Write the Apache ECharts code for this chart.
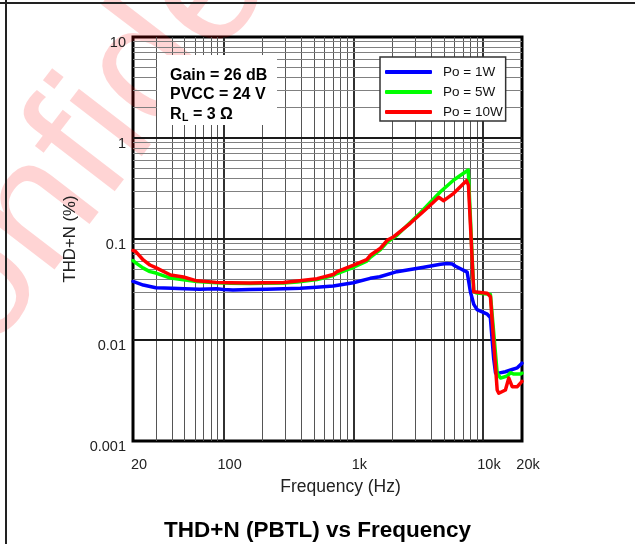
<!DOCTYPE html>
<html>
<head>
<meta charset="utf-8">
<script src="https://cdn.jsdelivr.net/npm/echarts@6/dist/echarts.min.js"></script>
<style>html,body{margin:0;padding:0;background:#fff}#c{width:635px;height:544px}</style>
</head>
<body>
<div id="c"></div>
<script>
// ---- data ----
const xTickValues = [20, 100, 1000, 10000, 20000];
const xTickLabels = ['20', '100', '1k', '10k', '20k'];
const yTickValues = [0.001, 0.01, 0.1, 1, 10];
const yTickLabels = ['0.001', '0.01', '0.1', '1', '10'];
const seriesNames = ['Po = 1W', 'Po = 5W', 'Po = 10W'];

const freq1W = [20, 24, 30, 40, 50, 65, 88, 100, 118, 160, 214, 290, 390, 520, 700, 1000, 1350, 1600, 2170, 3500, 4700, 5300, 5800, 6100, 7550, 8000, 8500, 9000, 10800, 11400, 12100, 12500, 13200, 14900, 16800, 18400, 20000];
const thd1W  = [0.038, 0.035, 0.0329, 0.0325, 0.0322, 0.0318, 0.0322, 0.0316, 0.0313, 0.0316, 0.0318, 0.0322, 0.0325, 0.0333, 0.0342, 0.0369, 0.0408, 0.0423, 0.0475, 0.0525, 0.0562, 0.0572, 0.0566, 0.054, 0.047, 0.030, 0.0225, 0.020, 0.018, 0.0167, 0.0065, 0.0047, 0.0047, 0.00485, 0.0051, 0.0053, 0.0059];

const freq5W = [20, 21, 24, 27, 30, 39, 49, 62, 88, 112, 160, 202, 290, 370, 526, 700, 750, 1005, 1270, 1353, 1620, 1826, 2170, 3290, 4700, 5950, 7700, 8490, 9020, 10770, 11420, 12870, 13650, 15370, 16300, 17290, 19470, 20000];
const thd5W  = [0.061, 0.058, 0.0515, 0.0475, 0.046, 0.041, 0.0395, 0.038, 0.0368, 0.0364, 0.0363, 0.0364, 0.0366, 0.0375, 0.0396, 0.0435, 0.0455, 0.0525, 0.0605, 0.066, 0.0785, 0.093, 0.109, 0.182, 0.294, 0.384, 0.482, 0.030, 0.0292, 0.0285, 0.0282, 0.0047, 0.0042, 0.0044, 0.00475, 0.0046, 0.0046, 0.0047];

const freq10W = [20, 21, 24, 27, 30, 39, 49, 62, 88, 112, 160, 202, 290, 370, 526, 700, 750, 1005, 1270, 1353, 1620, 1826, 2050, 2750, 3700, 4560, 4980, 5950, 7460, 7730, 8490, 8750, 10770, 11420, 12870, 13240, 14900, 15820, 16800, 18400, 20000];
const thd10W  = [0.077, 0.0749, 0.062, 0.0553, 0.052, 0.044, 0.042, 0.0385, 0.0372, 0.0369, 0.0366, 0.0369, 0.037, 0.0383, 0.0405, 0.0445, 0.0475, 0.055, 0.0625, 0.069, 0.081, 0.097, 0.1054, 0.143, 0.2014, 0.2588, 0.2394, 0.2835, 0.378, 0.34, 0.030, 0.0292, 0.0291, 0.0268, 0.0032, 0.00297, 0.0032, 0.0042, 0.00345, 0.00345, 0.0039];

const gridDecadesX = [10, 100, 1000, 10000];
const gridDecadesY = [0.001, 0.01, 0.1, 1];
const gridMultipliers = [1, 2, 3, 4, 5, 6, 7, 8, 9];

// ---- helpers ----
function zip(a, b) { return a.map((v, i) => [v, b[i]]); }
function lookupLabel(values, labels, v) {
  for (let i = 0; i < values.length; i++) {
    if (Math.abs(Math.log10(v) - Math.log10(values[i])) < 1e-6) return labels[i];
  }
  return '';
}
const FONT = 'Liberation Sans, Arial, Helvetica, sans-serif';
const gridLines = [];
gridDecadesX.forEach(d => gridMultipliers.forEach(m => {
  const v = d * m;
  if (v > 20 && v < 20000) {
    gridLines.push({ xAxis: v, lineStyle: m === 1 ? { color: '#1a1a1a', width: 1.8, type: 'solid' } : { color: '#555', width: 1, type: 'solid' } });
  }
}));
gridDecadesY.forEach(d => gridMultipliers.forEach(m => {
  const v = d * m;
  if (v > 0.001 && v < 10) {
    gridLines.push({ yAxis: v, lineStyle: m === 1 ? { color: '#1a1a1a', width: 1.8, type: 'solid' } : { color: '#808080', width: 1, type: 'solid' } });
  }
}));

const chart = echarts.init(document.getElementById('c'), null, { renderer: 'canvas' });
const colors = ['#0000ff', '#00ff00', '#ff0000'];
const dataSets = [zip(freq1W, thd1W), zip(freq5W, thd5W), zip(freq10W, thd10W)];

const option = {
  animation: false,
  backgroundColor: '#fff',
  title: {
    text: 'THD+N (PBTL) vs Frequency',
    left: 'center', top: 514,
    textStyle: { fontFamily: FONT, fontSize: 22.5, fontWeight: 'bold', color: '#000' }
  },
  grid: { left: 133, right: 113, top: 37, bottom: 103, show: true, borderColor: '#000', borderWidth: 3, backgroundColor: 'transparent' },
  legend: {
    orient: 'vertical', left: 380, top: 57,
    padding: [8, 3, 2, 5], itemGap: 6, itemWidth: 47, itemHeight: 4,
    icon: 'roundRect', selectedMode: false,
    backgroundColor: '#fff', borderColor: '#333', borderWidth: 1.5,
    textStyle: { fontFamily: FONT, fontSize: 13.5, color: '#111', lineHeight: 14, padding: [0, 0, 0, 6] },
    data: seriesNames
  },
  xAxis: {
    type: 'log', logBase: 10, min: 20, max: 20000,
    name: 'Frequency (Hz)', nameLocation: 'middle', nameGap: 37,
    nameTextStyle: { fontFamily: FONT, fontSize: 17.5, color: '#222', padding: [0, 0, 0, 26] },
    axisLine: { show: false }, axisTick: { show: false }, splitLine: { show: false },
    axisLabel: {
      customValues: xTickValues, margin: 16, fontFamily: FONT, fontSize: 14.5, color: '#222',
      padding: [0, 0, 0, 12],
      formatter: v => lookupLabel(xTickValues, xTickLabels, v)
    }
  },
  yAxis: {
    type: 'log', logBase: 10, min: 0.001, max: 10,
    name: 'THD+N (%)', nameLocation: 'middle', nameGap: 48, nameRotate: 90,
    nameTextStyle: { fontFamily: FONT, fontSize: 16.8, color: '#222' },
    axisLine: { show: false }, axisTick: { show: false }, splitLine: { show: false },
    axisLabel: {
      customValues: yTickValues, margin: 7, fontFamily: FONT, fontSize: 14.5, color: '#222',
      formatter: v => '{a|' + lookupLabel(yTickValues, yTickLabels, v) + '}',
      rich: { a: { fontFamily: FONT, fontSize: 14.5, color: '#222', padding: [11, 0, 0, 0] } }
    }
  },
  graphic: [
    { type: 'text', z: 0, x: -56, y: 477, rotation: 0.916, silent: true,
      style: { text: 'Confidential', fontFamily: FONT, fontSize: 172, fill: 'rgba(255,0,0,0.17)', align: 'left', verticalAlign: 'bottom' } },
    { type: 'line', z: 10, silent: true, shape: { x1: 0, y1: 3, x2: 635, y2: 3 }, style: { stroke: '#222', lineWidth: 2 } },
    { type: 'line', z: 10, silent: true, shape: { x1: 6, y1: 0, x2: 6, y2: 544 }, style: { stroke: '#222', lineWidth: 2 } },
    { type: 'rect', z: 2, silent: true, shape: { x: 157, y: 55, width: 120, height: 70 }, style: { fill: '#fff' } },
    { type: 'text', z: 3, silent: true, x: 170, y: 76, style: { text: 'Gain = 26 dB', fontFamily: FONT, fontSize: 16, fontWeight: 'bold', fill: '#000', verticalAlign: 'middle' } },
    { type: 'text', z: 3, silent: true, x: 170, y: 95, style: { text: 'PVCC = 24 V', fontFamily: FONT, fontSize: 16, fontWeight: 'bold', fill: '#000', verticalAlign: 'middle' } },
    { type: 'text', z: 3, silent: true, x: 170, y: 115, style: { text: 'R', fontFamily: FONT, fontSize: 16, fontWeight: 'bold', fill: '#000', verticalAlign: 'middle' } },
    { type: 'text', z: 3, silent: true, x: 182, y: 118.5, style: { text: 'L', fontFamily: FONT, fontSize: 10.5, fontWeight: 'bold', fill: '#000', verticalAlign: 'middle' } },
    { type: 'text', z: 3, silent: true, x: 188.5, y: 115, style: { text: ' = 3 Ω', fontFamily: FONT, fontSize: 16, fontWeight: 'bold', fill: '#000', verticalAlign: 'middle' } }
  ],
  series: [
    { name: 'gridlines', type: 'line', data: [], silent: true, z: 1,
      markLine: { z: 1, silent: true, symbol: ['none', 'none'], label: { show: false }, animation: false,
        emphasis: { disabled: true }, data: gridLines } }
  ].concat(seriesNames.map((n, i) => ({
    name: n, type: 'line', data: dataSets[i], showSymbol: false, symbol: 'none', z: 3,
    lineStyle: { color: colors[i], width: 3.5, join: 'round', cap: 'round' },
    itemStyle: { color: colors[i] }
  })))
};
chart.setOption(option);
</script>
</body>
</html>
